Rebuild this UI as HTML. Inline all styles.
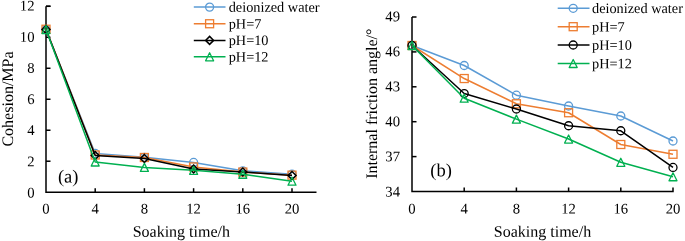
<!DOCTYPE html>
<html><head><meta charset="utf-8"><style>
html,body{margin:0;padding:0;background:#fff;}
svg{display:block;will-change:transform;}
text{font-family:"Liberation Serif",serif;fill:#000;text-rendering:geometricPrecision;}
.tk{font-size:14.7px;}
.ti{font-size:16px;}
.lb{font-size:18.5px;}
.lg{font-size:14.3px;}
</style></head><body>
<svg width="685" height="241" viewBox="0 0 685 241">
<path d="M46 6.3H50.5M46 6.3V192.2H316.5" fill="none" stroke="#000" stroke-width="1.5"/>
<text x="34.5" y="197.40" text-anchor="end" class="tk" transform="rotate(0.05 34.5 197.40)">0</text>
<path d="M46 161.22H50.5" stroke="#000" stroke-width="1.5"/>
<text x="34.5" y="166.25" text-anchor="end" class="tk" transform="rotate(0.05 34.5 166.25)">2</text>
<path d="M46 130.23H50.5" stroke="#000" stroke-width="1.5"/>
<text x="34.5" y="135.10" text-anchor="end" class="tk" transform="rotate(0.05 34.5 135.10)">4</text>
<path d="M46 99.25H50.5" stroke="#000" stroke-width="1.5"/>
<text x="34.5" y="103.95" text-anchor="end" class="tk" transform="rotate(0.05 34.5 103.95)">6</text>
<path d="M46 68.27H50.5" stroke="#000" stroke-width="1.5"/>
<text x="34.5" y="72.80" text-anchor="end" class="tk" transform="rotate(0.05 34.5 72.80)">8</text>
<path d="M46 37.28H50.5" stroke="#000" stroke-width="1.5"/>
<text x="34.5" y="41.65" text-anchor="end" class="tk" transform="rotate(0.05 34.5 41.65)">10</text>
<path d="M46 6.30H50.5" stroke="#000" stroke-width="1.5"/>
<text x="34.5" y="10.50" text-anchor="end" class="tk" transform="rotate(0.05 34.5 10.50)">12</text>
<text x="46.00" y="213.5" text-anchor="middle" class="tk" transform="rotate(0.05 46.00 213.5)">0</text>
<path d="M95.20 192.2V188.2" stroke="#000" stroke-width="1.5"/>
<text x="95.20" y="213.5" text-anchor="middle" class="tk" transform="rotate(0.05 95.20 213.5)">4</text>
<path d="M144.40 192.2V188.2" stroke="#000" stroke-width="1.5"/>
<text x="144.40" y="213.5" text-anchor="middle" class="tk" transform="rotate(0.05 144.40 213.5)">8</text>
<path d="M193.60 192.2V188.2" stroke="#000" stroke-width="1.5"/>
<text x="193.60" y="213.5" text-anchor="middle" class="tk" transform="rotate(0.05 193.60 213.5)">12</text>
<path d="M242.80 192.2V188.2" stroke="#000" stroke-width="1.5"/>
<text x="242.80" y="213.5" text-anchor="middle" class="tk" transform="rotate(0.05 242.80 213.5)">16</text>
<path d="M292.00 192.2V188.2" stroke="#000" stroke-width="1.5"/>
<text x="292.00" y="213.5" text-anchor="middle" class="tk" transform="rotate(0.05 292.00 213.5)">20</text>
<text x="181.3" y="236.8" text-anchor="middle" class="ti" transform="rotate(0.05 181.3 236.8)">Soaking time/h</text>
<text transform="translate(13,99) rotate(-89.95)" text-anchor="middle" class="ti">Cohesion/MPa</text>
<text x="57.9" y="182.6" class="lb" transform="rotate(0.05 57.9 182.6)">(a)</text>
<polyline points="46.00,29.54 95.20,153.47 144.40,157.34 193.60,162.46 242.80,170.82 292.00,174.23" fill="none" stroke="#5B9BD5" stroke-width="1.5" stroke-linejoin="round"/>
<circle cx="46.00" cy="29.54" r="4.0" fill="none" stroke="#5B9BD5" stroke-width="1.3"/>
<circle cx="95.20" cy="153.47" r="4.0" fill="none" stroke="#5B9BD5" stroke-width="1.3"/>
<circle cx="144.40" cy="157.34" r="4.0" fill="none" stroke="#5B9BD5" stroke-width="1.3"/>
<circle cx="193.60" cy="162.46" r="4.0" fill="none" stroke="#5B9BD5" stroke-width="1.3"/>
<circle cx="242.80" cy="170.82" r="4.0" fill="none" stroke="#5B9BD5" stroke-width="1.3"/>
<circle cx="292.00" cy="174.23" r="4.0" fill="none" stroke="#5B9BD5" stroke-width="1.3"/>
<polyline points="46.00,29.23 95.20,155.02 144.40,157.50 193.60,166.95 242.80,172.06 292.00,175.16" fill="none" stroke="#ED7D31" stroke-width="1.5" stroke-linejoin="round"/>
<rect x="42.00" y="25.23" width="8.0" height="8.0" fill="none" stroke="#ED7D31" stroke-width="1.3"/>
<rect x="91.20" y="151.02" width="8.0" height="8.0" fill="none" stroke="#ED7D31" stroke-width="1.3"/>
<rect x="140.40" y="153.50" width="8.0" height="8.0" fill="none" stroke="#ED7D31" stroke-width="1.3"/>
<rect x="189.60" y="162.95" width="8.0" height="8.0" fill="none" stroke="#ED7D31" stroke-width="1.3"/>
<rect x="238.80" y="168.06" width="8.0" height="8.0" fill="none" stroke="#ED7D31" stroke-width="1.3"/>
<rect x="288.00" y="171.16" width="8.0" height="8.0" fill="none" stroke="#ED7D31" stroke-width="1.3"/>
<polyline points="46.00,29.54 95.20,155.48 144.40,158.43 193.60,168.96 242.80,172.06 292.00,175.47" fill="none" stroke="#000000" stroke-width="1.5" stroke-linejoin="round"/>
<path d="M46.00 25.54L50.00 29.54L46.00 33.54L42.00 29.54Z" fill="none" stroke="#000000" stroke-width="1.5"/>
<path d="M95.20 151.48L99.20 155.48L95.20 159.48L91.20 155.48Z" fill="none" stroke="#000000" stroke-width="1.5"/>
<path d="M144.40 154.43L148.40 158.43L144.40 162.43L140.40 158.43Z" fill="none" stroke="#000000" stroke-width="1.5"/>
<path d="M193.60 164.96L197.60 168.96L193.60 172.96L189.60 168.96Z" fill="none" stroke="#000000" stroke-width="1.5"/>
<path d="M242.80 168.06L246.80 172.06L242.80 176.06L238.80 172.06Z" fill="none" stroke="#000000" stroke-width="1.5"/>
<path d="M292.00 171.47L296.00 175.47L292.00 179.47L288.00 175.47Z" fill="none" stroke="#000000" stroke-width="1.5"/>
<polyline points="46.00,29.54 95.20,161.99 144.40,167.41 193.60,170.36 242.80,174.23 292.00,181.20" fill="none" stroke="#00B050" stroke-width="1.5" stroke-linejoin="round"/>
<path d="M46.00 25.54L50.00 33.54L42.00 33.54Z" fill="none" stroke="#00B050" stroke-width="1.3" stroke-linejoin="round"/>
<path d="M95.20 157.99L99.20 165.99L91.20 165.99Z" fill="none" stroke="#00B050" stroke-width="1.3" stroke-linejoin="round"/>
<path d="M144.40 163.41L148.40 171.41L140.40 171.41Z" fill="none" stroke="#00B050" stroke-width="1.3" stroke-linejoin="round"/>
<path d="M193.60 166.36L197.60 174.36L189.60 174.36Z" fill="none" stroke="#00B050" stroke-width="1.3" stroke-linejoin="round"/>
<path d="M242.80 170.23L246.80 178.23L238.80 178.23Z" fill="none" stroke="#00B050" stroke-width="1.3" stroke-linejoin="round"/>
<path d="M292.00 177.20L296.00 185.20L288.00 185.20Z" fill="none" stroke="#00B050" stroke-width="1.3" stroke-linejoin="round"/>
<path d="M412 17H416.5M412 17V191.5H673V187.5" fill="none" stroke="#000" stroke-width="1.5"/>
<text x="400" y="196.40" text-anchor="end" class="tk" transform="rotate(0.05 400 196.40)">34</text>
<path d="M412 156.60H416.5" stroke="#000" stroke-width="1.5"/>
<text x="400" y="161.36" text-anchor="end" class="tk" transform="rotate(0.05 400 161.36)">37</text>
<path d="M412 121.70H416.5" stroke="#000" stroke-width="1.5"/>
<text x="400" y="126.32" text-anchor="end" class="tk" transform="rotate(0.05 400 126.32)">40</text>
<path d="M412 86.80H416.5" stroke="#000" stroke-width="1.5"/>
<text x="400" y="91.28" text-anchor="end" class="tk" transform="rotate(0.05 400 91.28)">43</text>
<path d="M412 51.90H416.5" stroke="#000" stroke-width="1.5"/>
<text x="400" y="56.24" text-anchor="end" class="tk" transform="rotate(0.05 400 56.24)">46</text>
<text x="400" y="21.20" text-anchor="end" class="tk" transform="rotate(0.05 400 21.20)">49</text>
<text x="412.00" y="213.5" text-anchor="middle" class="tk" transform="rotate(0.05 412.00 213.5)">0</text>
<path d="M464.20 191.5V187.5" stroke="#000" stroke-width="1.5"/>
<text x="464.20" y="213.5" text-anchor="middle" class="tk" transform="rotate(0.05 464.20 213.5)">4</text>
<path d="M516.40 191.5V187.5" stroke="#000" stroke-width="1.5"/>
<text x="516.40" y="213.5" text-anchor="middle" class="tk" transform="rotate(0.05 516.40 213.5)">8</text>
<path d="M568.60 191.5V187.5" stroke="#000" stroke-width="1.5"/>
<text x="568.60" y="213.5" text-anchor="middle" class="tk" transform="rotate(0.05 568.60 213.5)">12</text>
<path d="M620.80 191.5V187.5" stroke="#000" stroke-width="1.5"/>
<text x="620.80" y="213.5" text-anchor="middle" class="tk" transform="rotate(0.05 620.80 213.5)">16</text>
<text x="673.00" y="213.5" text-anchor="middle" class="tk" transform="rotate(0.05 673.00 213.5)">20</text>
<text x="542.5" y="236.8" text-anchor="middle" class="ti" transform="rotate(0.05 542.5 236.8)">Soaking time/h</text>
<text transform="translate(377,103.7) rotate(-89.95)" text-anchor="middle" class="ti">Internal friction angle/°</text>
<text x="430.3" y="176.2" class="lb" transform="rotate(0.05 430.3 176.2)">(b)</text>
<polyline points="412.00,45.50 464.20,65.51 516.40,95.18 568.60,105.99 620.80,116.00 673.00,141.01" fill="none" stroke="#5B9BD5" stroke-width="1.5" stroke-linejoin="round"/>
<circle cx="412.00" cy="45.50" r="4.0" fill="none" stroke="#5B9BD5" stroke-width="1.3"/>
<circle cx="464.20" cy="65.51" r="4.0" fill="none" stroke="#5B9BD5" stroke-width="1.3"/>
<circle cx="516.40" cy="95.18" r="4.0" fill="none" stroke="#5B9BD5" stroke-width="1.3"/>
<circle cx="568.60" cy="105.99" r="4.0" fill="none" stroke="#5B9BD5" stroke-width="1.3"/>
<circle cx="620.80" cy="116.00" r="4.0" fill="none" stroke="#5B9BD5" stroke-width="1.3"/>
<circle cx="673.00" cy="141.01" r="4.0" fill="none" stroke="#5B9BD5" stroke-width="1.3"/>
<polyline points="412.00,45.50 464.20,78.54 516.40,103.78 568.60,112.74 620.80,144.50 673.00,154.27" fill="none" stroke="#ED7D31" stroke-width="1.5" stroke-linejoin="round"/>
<rect x="408.00" y="41.50" width="8.0" height="8.0" fill="none" stroke="#ED7D31" stroke-width="1.3"/>
<rect x="460.20" y="74.54" width="8.0" height="8.0" fill="none" stroke="#ED7D31" stroke-width="1.3"/>
<rect x="512.40" y="99.78" width="8.0" height="8.0" fill="none" stroke="#ED7D31" stroke-width="1.3"/>
<rect x="564.60" y="108.74" width="8.0" height="8.0" fill="none" stroke="#ED7D31" stroke-width="1.3"/>
<rect x="616.80" y="140.50" width="8.0" height="8.0" fill="none" stroke="#ED7D31" stroke-width="1.3"/>
<rect x="669.00" y="150.27" width="8.0" height="8.0" fill="none" stroke="#ED7D31" stroke-width="1.3"/>
<polyline points="412.00,45.50 464.20,93.55 516.40,109.02 568.60,125.77 620.80,130.77 673.00,167.42" fill="none" stroke="#000000" stroke-width="1.5" stroke-linejoin="round"/>
<circle cx="412.00" cy="45.50" r="4.0" fill="none" stroke="#000000" stroke-width="1.3"/>
<circle cx="464.20" cy="93.55" r="4.0" fill="none" stroke="#000000" stroke-width="1.3"/>
<circle cx="516.40" cy="109.02" r="4.0" fill="none" stroke="#000000" stroke-width="1.3"/>
<circle cx="568.60" cy="125.77" r="4.0" fill="none" stroke="#000000" stroke-width="1.3"/>
<circle cx="620.80" cy="130.77" r="4.0" fill="none" stroke="#000000" stroke-width="1.3"/>
<circle cx="673.00" cy="167.42" r="4.0" fill="none" stroke="#000000" stroke-width="1.3"/>
<polyline points="412.00,45.50 464.20,98.20 516.40,119.14 568.60,139.03 620.80,162.30 673.00,176.73" fill="none" stroke="#00B050" stroke-width="1.5" stroke-linejoin="round"/>
<path d="M412.00 41.50L416.00 49.50L408.00 49.50Z" fill="none" stroke="#00B050" stroke-width="1.3" stroke-linejoin="round"/>
<path d="M464.20 94.20L468.20 102.20L460.20 102.20Z" fill="none" stroke="#00B050" stroke-width="1.3" stroke-linejoin="round"/>
<path d="M516.40 115.14L520.40 123.14L512.40 123.14Z" fill="none" stroke="#00B050" stroke-width="1.3" stroke-linejoin="round"/>
<path d="M568.60 135.03L572.60 143.03L564.60 143.03Z" fill="none" stroke="#00B050" stroke-width="1.3" stroke-linejoin="round"/>
<path d="M620.80 158.30L624.80 166.30L616.80 166.30Z" fill="none" stroke="#00B050" stroke-width="1.3" stroke-linejoin="round"/>
<path d="M673.00 172.73L677.00 180.73L669.00 180.73Z" fill="none" stroke="#00B050" stroke-width="1.3" stroke-linejoin="round"/>
<path d="M193.8 7.1H225.5" stroke="#5B9BD5" stroke-width="1.5"/>
<circle cx="209.60" cy="7.10" r="4.0" fill="none" stroke="#5B9BD5" stroke-width="1.3"/>
<text x="228.7" y="11.80" class="lg" transform="rotate(0.05 228.7 11.80)">deionized water</text>
<path d="M193.8 23.75H225.5" stroke="#ED7D31" stroke-width="1.5"/>
<rect x="205.60" y="19.75" width="8.0" height="8.0" fill="none" stroke="#ED7D31" stroke-width="1.3"/>
<text x="228.7" y="28.45" class="lg" transform="rotate(0.05 228.7 28.45)">pH=7</text>
<path d="M193.8 40.4H225.5" stroke="#000000" stroke-width="1.5"/>
<path d="M209.60 36.40L213.60 40.40L209.60 44.40L205.60 40.40Z" fill="none" stroke="#000000" stroke-width="1.5"/>
<text x="228.7" y="45.10" class="lg" transform="rotate(0.05 228.7 45.10)">pH=10</text>
<path d="M193.8 56.8H225.5" stroke="#00B050" stroke-width="1.5"/>
<path d="M209.60 52.80L213.60 60.80L205.60 60.80Z" fill="none" stroke="#00B050" stroke-width="1.3" stroke-linejoin="round"/>
<text x="228.7" y="61.50" class="lg" transform="rotate(0.05 228.7 61.50)">pH=12</text>
<path d="M557.7 8.3H589.5" stroke="#5B9BD5" stroke-width="1.5"/>
<circle cx="573.20" cy="8.30" r="4.0" fill="none" stroke="#5B9BD5" stroke-width="1.3"/>
<text x="592.0" y="13.00" class="lg" transform="rotate(0.05 592.0 13.00)">deionized water</text>
<path d="M557.7 26.7H589.5" stroke="#ED7D31" stroke-width="1.5"/>
<rect x="569.20" y="22.70" width="8.0" height="8.0" fill="none" stroke="#ED7D31" stroke-width="1.3"/>
<text x="592.0" y="31.40" class="lg" transform="rotate(0.05 592.0 31.40)">pH=7</text>
<path d="M557.7 45.0H589.5" stroke="#000000" stroke-width="1.5"/>
<circle cx="573.20" cy="45.00" r="4.0" fill="none" stroke="#000000" stroke-width="1.3"/>
<text x="592.0" y="49.70" class="lg" transform="rotate(0.05 592.0 49.70)">pH=10</text>
<path d="M557.7 63.5H589.5" stroke="#00B050" stroke-width="1.5"/>
<path d="M573.20 59.50L577.20 67.50L569.20 67.50Z" fill="none" stroke="#00B050" stroke-width="1.3" stroke-linejoin="round"/>
<text x="592.0" y="68.20" class="lg" transform="rotate(0.05 592.0 68.20)">pH=12</text>
</svg>
</body></html>
